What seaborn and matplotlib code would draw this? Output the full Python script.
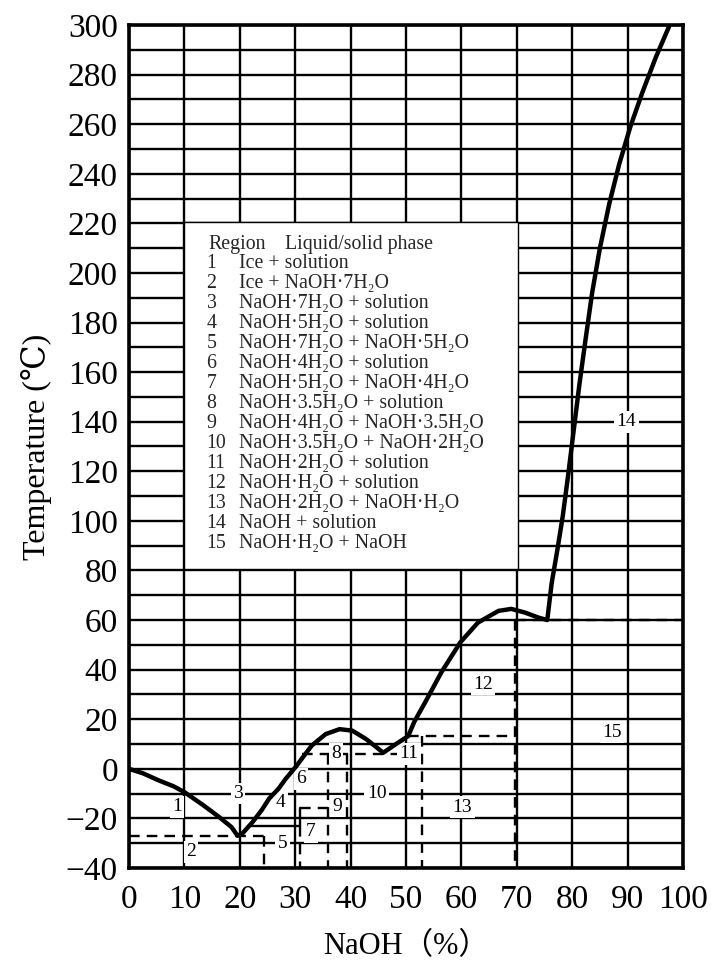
import matplotlib
matplotlib.use("Agg")
import matplotlib.pyplot as plt
import seaborn as sns
import pandas as pd
from matplotlib.patches import Rectangle

# Liquidus curve of the NaOH–H2O system (NaOH mass %, temperature °C)
liquidus_pct = [0, 2.5, 5.4, 8, 10, 13.3, 16.3, 18.5, 19.6,
                20.5, 22.3, 24, 25.3, 27, 28.3, 30.1, 31.5, 33, 35.5, 38, 40.3,
                42.8, 44.5, 45.9, 48.2, 50.4,
                51.5, 53.5, 56.4, 59.8, 63, 66.7, 69, 71.5, 73.9, 75.5,
                76.3, 77.3, 78.3, 79.3, 80.3, 81.3, 82.4, 83.6, 85.0, 86.7,
                88.5, 90.5, 92.7, 95.1, 97.6]
liquidus_temp = [0, -1.8, -4.7, -7, -9.4, -14.5, -19.5, -23.5, -27,
                 -26, -21.5, -16.5, -12, -8, -4, 0.8, 5, 9.4, 14, 16, 15.4,
                 12, 9, 6.5, 10, 13.2,
                 19, 27, 39, 51, 59, 63.7, 64.5, 63, 61, 60,
                 75, 88, 102, 119, 137, 155, 173, 192, 210, 228,
                 244, 259, 273, 287, 300]

# Invariant (horizontal) and hydrate-composition (vertical) lines
dashed_x0 = [0, 24.4, 30.8, 36.0, 39.3, 31.3, 52.8, 50.4, 69.6, 69.6, 30.9]
dashed_x1 = [24.4, 24.4, 36.0, 36.0, 39.3, 52.8, 52.8, 69.6, 69.6, 100, 30.9]
dashed_t0 = [-27, -27, -16, 6, 6, 6, 13.2, 13.2, 60, 60, -23]
dashed_t1 = [-27, -40, -16, -40, -40, 6, -40, 13.2, -40, 60, -40]

solid_x0 = [21.7, 30.8]
solid_x1 = [30.8, 30.8]
solid_t0 = [-23, -23]
solid_t1 = [-23, -16]

# Region numbers placed inside the diagram
region_ids = ["1", "2", "3", "4", "5", "6", "7", "8", "9", "10", "11", "12", "13", "14", "15"]
region_pct = [8.7, 11.2, 19.7, 27.4, 27.7, 31.0, 32.8, 37.4, 37.6, 44.7, 50.5, 63.9, 60.2, 89.8, 87.2]
region_temp = [-15.3, -33.5, -10, -13.5, -30, -4, -25.4, 6, -15, -10, 6, 34, -15.4, 140, 14.8]

legend_phases = [
    "Ice + solution",
    "Ice + NaOH·7H₂O",
    "NaOH·7H₂O + solution",
    "NaOH·5H₂O + solution",
    "NaOH·7H₂O + NaOH·5H₂O",
    "NaOH·4H₂O + solution",
    "NaOH·5H₂O + NaOH·4H₂O",
    "NaOH·3.5H₂O + solution",
    "NaOH·4H₂O + NaOH·3.5H₂O",
    "NaOH·3.5H₂O + NaOH·2H₂O",
    "NaOH·2H₂O + solution",
    "NaOH·H₂O + solution",
    "NaOH·2H₂O + NaOH·H₂O",
    "NaOH + solution",
    "NaOH·H₂O + NaOH",
]

sns.set_theme(style="white")
fam = ["Liberation Serif", "DejaVu Serif", "Noto Sans CJK JP"]
plt.rcParams["font.family"] = fam
plt.rcParams["axes.unicode_minus"] = True

fig = plt.figure(figsize=(7.13, 9.63), dpi=100)
ax = fig.add_axes([129 / 713, 1 - 868 / 963, (683 - 129) / 713, (868 - 25) / 963])

ax.set_xlim(0, 100)
ax.set_ylim(-40, 300)
ax.set_xticks(range(0, 101, 10))
ax.set_yticks(range(-40, 301, 20))
ax.set_yticks(range(-30, 301, 20), minor=True)
ax.grid(which="both", color="black", lw=1.7, zorder=0)
ax.set_axisbelow(True)
ax.tick_params(which="both", length=0, labelsize=24, colors="black")
ax.tick_params(axis="x", pad=12)
ax.tick_params(axis="y", pad=8)
for sp in ax.spines.values():
    sp.set_color("black")
    sp.set_linewidth(2.6)

# phase boundary lines
for x0, x1, t0, t1 in zip(dashed_x0, dashed_x1, dashed_t0, dashed_t1):
    ax.plot([x0, x1], [t0, t1], color="black", lw=1.7, ls=(0, (4.5, 3)), zorder=3)
for x0, x1, t0, t1 in zip(solid_x0, solid_x1, solid_t0, solid_t1):
    ax.plot([x0, x1], [t0, t1], color="black", lw=1.7, zorder=3)

curve = pd.DataFrame({"pct": liquidus_pct, "temp": liquidus_temp})
sns.lineplot(data=curve, x="pct", y="temp", sort=False, estimator=None,
             color="black", lw=3.2, ax=ax, zorder=5)

for rid, px, pt in zip(region_ids, region_pct, region_temp):
    ax.text(px, pt, rid, ha="center", va="center", fontsize=14, color="black",
            zorder=4, bbox=dict(boxstyle="square,pad=0.12", fc="white", ec="none"))

# key to the region numbers
box_x0, box_x1 = 9.9, 70.2
box_t0, box_t1 = 80.5, 220.7
ax.add_patch(Rectangle((box_x0, box_t0), box_x1 - box_x0, box_t1 - box_t0,
                       facecolor="white", edgecolor="black", lw=1.0, zorder=6))
row_step = 8.08
head_t = 211.6
key_fs = 14.3
ax.text(14.3, head_t, "Region", fontsize=key_fs, va="center", ha="left", zorder=7)
ax.text(28.2, head_t, "Liquid/solid phase", fontsize=key_fs, va="center", ha="left", zorder=7)
for i, phase in enumerate(legend_phases):
    t = head_t - row_step * (i + 1) + 0.4
    ax.text(14.0, t, str(i + 1), fontsize=key_fs, va="center", ha="left", zorder=7)
    ax.text(19.9, t, phase, fontsize=key_fs, va="center", ha="left", zorder=7)

ax.set_xlabel("NaOH（%）", fontsize=22, color="black", labelpad=12)
ax.set_ylabel("Temperature (℃)", fontsize=23, color="black", labelpad=10)

fig.savefig("out.png", dpi=100)
